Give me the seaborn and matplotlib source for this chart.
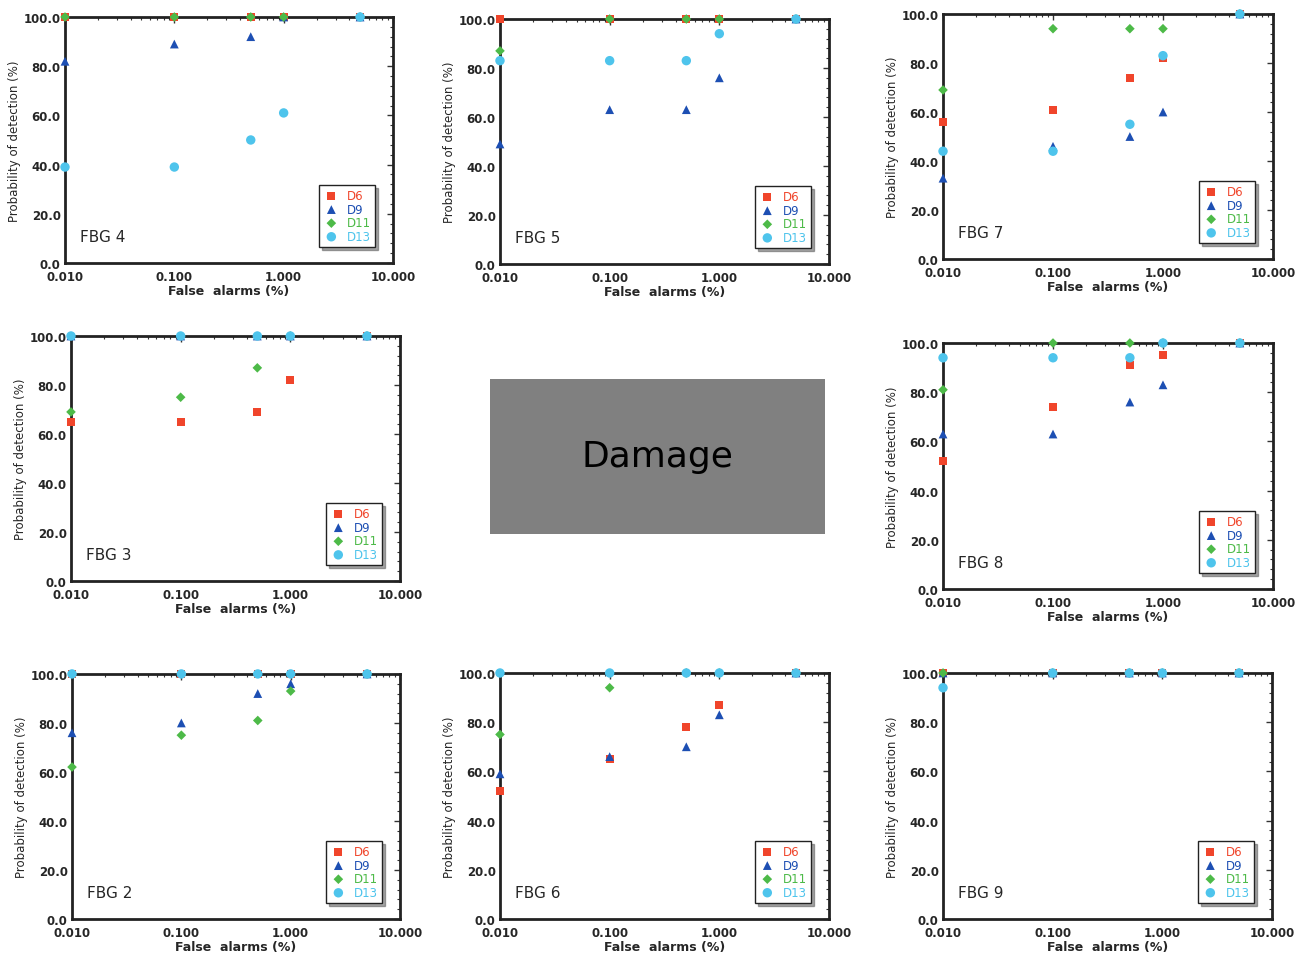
import numpy as np
import pandas as pd
import seaborn as sns
import matplotlib
matplotlib.use("Agg")
import matplotlib.pyplot as plt
from matplotlib.ticker import FixedLocator, FixedFormatter, LogLocator, MultipleLocator, NullFormatter

# false alarm levels (%) shared by every panel
false_alarms = [0.01, 0.1, 0.5, 1.0, 5.0]
series_names = ["D6", "D9", "D11", "D13"]

# probability of detection (%), one list per damage case, per FBG
fbg4 = {"D6": [100, 100, 100, 100, 100], "D9": [82, 89, 92, 100, 100],
        "D11": [100, 100, 100, 100, 100], "D13": [39, 39, 50, 61, 100]}
fbg5 = {"D6": [100, 100, 100, 100, 100], "D9": [49, 63, 63, 76, 100],
        "D11": [87, 100, 100, 100, 100], "D13": [83, 83, 83, 94, 100]}
fbg7 = {"D6": [56, 61, 74, 82, 100], "D9": [33, 46, 50, 60, 100],
        "D11": [69, 94, 94, 94, 100], "D13": [44, 44, 55, 83, 100]}
fbg3 = {"D6": [65, 65, 69, 82, 100], "D9": [100, 100, 100, 100, 100],
        "D11": [69, 75, 87, 100, 100], "D13": [100, 100, 100, 100, 100]}
fbg8 = {"D6": [52, 74, 91, 95, 100], "D9": [63, 63, 76, 83, 100],
        "D11": [81, 100, 100, 100, 100], "D13": [94, 94, 94, 100, 100]}
fbg2 = {"D6": [100, 100, 100, 100, 100], "D9": [76, 80, 92, 96, 100],
        "D11": [62, 75, 81, 93, 100], "D13": [100, 100, 100, 100, 100]}
fbg6 = {"D6": [52, 65, 78, 87, 100], "D9": [59, 66, 70, 83, 100],
        "D11": [75, 94, 100, 100, 100], "D13": [100, 100, 100, 100, 100]}
fbg9 = {"D6": [100, 100, 100, 100, 100], "D9": [100, 100, 100, 100, 100],
        "D11": [100, 100, 100, 100, 100], "D13": [94, 100, 100, 100, 100]}

panels = [
    ("FBG 4", fbg4, [0.0500, 0.7256, 0.2523, 0.2557]),
    ("FBG 5", fbg5, [0.3846, 0.7245, 0.2531, 0.2547]),
    ("FBG 7", fbg7, [0.7254, 0.7297, 0.2538, 0.2547]),
    ("FBG 3", fbg3, [0.0546, 0.3950, 0.2531, 0.2547]),
    ("FBG 8", fbg8, [0.7254, 0.3867, 0.2538, 0.2557]),
    ("FBG 2", fbg2, [0.0554, 0.0437, 0.2523, 0.2547]),
    ("FBG 6", fbg6, [0.3846, 0.0437, 0.2531, 0.2557]),
    ("FBG 9", fbg9, [0.7254, 0.0437, 0.2531, 0.2557]),
]

colors = {"D6": "#f0452b", "D9": "#1d4fb3", "D11": "#4dba48", "D13": "#4ec4ec"}
markers = {"D6": "s", "D9": "^", "D11": "D", "D13": "o"}
sizes = {"D6": 34, "D9": 40, "D11": 24, "D13": 46}


def draw_panel(ax, name, data):
    df = pd.DataFrame({
        "x": np.tile(false_alarms, len(series_names)),
        "y": np.concatenate([data[s] for s in series_names]),
        "case": np.repeat(series_names, len(false_alarms)),
    })
    for s in series_names:
        sub = df[df.case == s]
        sns.scatterplot(data=sub, x="x", y="y", ax=ax, color=colors[s],
                        marker=markers[s], s=sizes[s], edgecolor="none",
                        label=s, zorder=3, clip_on=False)
    ax.set_xscale("log")
    ax.set_xlim(0.01, 10)
    ax.set_ylim(0, 100)
    ax.xaxis.set_major_locator(FixedLocator([0.01, 0.1, 1, 10]))
    ax.xaxis.set_major_formatter(FixedFormatter(["0.010", "0.100", "1.000", "10.000"]))
    ax.xaxis.set_minor_locator(LogLocator(base=10, subs=np.arange(2, 10)))
    ax.xaxis.set_minor_formatter(NullFormatter())
    ax.yaxis.set_major_locator(MultipleLocator(20))
    ax.yaxis.set_minor_locator(MultipleLocator(4))
    ax.yaxis.set_major_formatter(matplotlib.ticker.FormatStrFormatter("%.1f"))
    ax.tick_params(which="both", direction="in", top=True, right=True, color="#333333")
    ax.tick_params(which="major", length=4, width=1, labelsize=8.5)
    ax.tick_params(axis="x", which="major", pad=5)
    ax.tick_params(axis="y", which="major", pad=3)
    ax.tick_params(which="minor", length=2, width=0.8)
    for lab in ax.get_xticklabels() + ax.get_yticklabels():
        lab.set_fontweight("bold")
    for sp in ax.spines.values():
        sp.set_linewidth(2)
        sp.set_color("#222222")
    ax.set_xlabel("False  alarms (%)", fontsize=9, fontweight="bold", labelpad=1)
    ax.set_ylabel("Probability of detection (%)", fontsize=8.5, labelpad=2)
    ax.text(0.045, 0.09, name, transform=ax.transAxes, fontsize=11)
    leg = ax.legend(loc="lower right", bbox_to_anchor=(0.945, 0.065), frameon=True,
                    fancybox=False, shadow=True, fontsize=8.5, handletextpad=0.6,
                    handlelength=1.4, borderpad=0.35, labelspacing=0.05,
                    borderaxespad=0)
    leg.get_frame().set_edgecolor("#222222")
    leg.get_frame().set_linewidth(1.0)
    for txt, s in zip(leg.get_texts(), series_names):
        txt.set_color(colors[s])
    ax.grid(False)


def main():
    sns.set_style("white")
    plt.rcParams["font.family"] = ["DejaVu Sans"]
    fig = plt.figure(figsize=(13, 9.62), dpi=100)
    for name, data, rect in panels:
        ax = fig.add_axes(rect)
        draw_panel(ax, name, data)

    # grey "Damage" label box in the middle slot
    box = fig.add_axes([0.3769, 0.4439, 0.2577, 0.1611])
    box.set_facecolor("#808080")
    box.set_xticks([])
    box.set_yticks([])
    for sp in box.spines.values():
        sp.set_visible(False)
    box.text(0.5, 0.5, "Damage", ha="center", va="center", fontsize=26,
             color="black", transform=box.transAxes)

    fig.savefig("out.png", dpi=100)


if __name__ == "__main__":
    main()
